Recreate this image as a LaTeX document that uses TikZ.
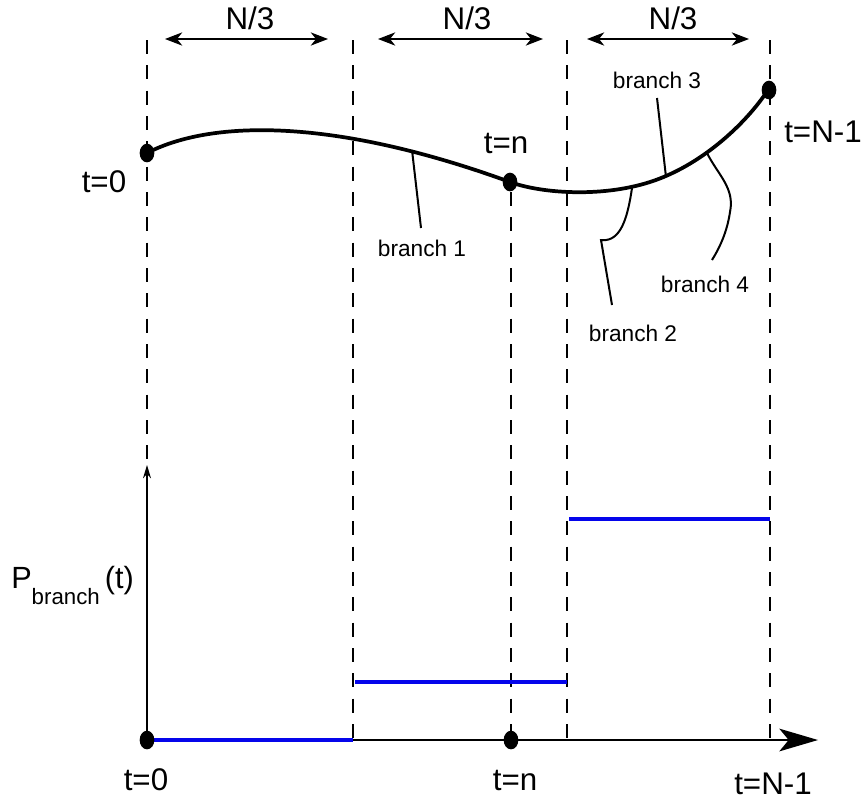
\documentclass[tikz,border=0pt]{standalone}
\usepackage{fontspec}
\setmainfont{Liberation Sans}
\usetikzlibrary{arrows.meta,shapes.geometric}
\begin{document}
\begin{tikzpicture}[x=0.75pt,y=-0.75pt,
  guide/.style={line width=0.8pt,dash pattern=on 10.5pt off 8.5pt},
  biglabel/.style={font=\fontsize{23.5}{28}\selectfont,inner sep=0},
  smalllabel/.style={font=\fontsize{17}{20}\selectfont,inner sep=0},
  dotmark/.style={ellipse,fill,inner sep=0,minimum width=11pt,minimum height=14pt},
  span/.style={line width=0.9pt,{Stealth[length=13pt,width=10pt,inset=4pt]}-{Stealth[length=13pt,width=10pt,inset=4pt]}},
  leader/.style={line width=1.5pt},
  level/.style={line width=3.6pt,color={rgb,255:red,5;green,5;blue,235}}]
\useasboundingbox (0,0) rectangle (866,801);

% guide coordinates
\coordinate (g0t) at (147,40);  \coordinate (g0b) at (147,465);
\coordinate (g1t) at (353,40);  \coordinate (g1b) at (353,740);
\coordinate (gnt) at (511,192); \coordinate (gnb) at (511,740);
\coordinate (g2t) at (567,40);  \coordinate (g2b) at (567,740);
\coordinate (g3t) at (770,40);  \coordinate (g3b) at (770,740);
\draw[guide] (g0t) -- (g0b);
\draw[guide] (g1t) -- (g1b);
\draw[guide] (gnt) -- (gnb);
\draw[guide] (g2t) -- (g2b);
\draw[guide] (g3t) -- (g3b);

% N/3 spans
\coordinate (s1a) at (165,39); \coordinate (s1b) at (328,39);
\coordinate (s2a) at (378,39); \coordinate (s2b) at (543,39);
\coordinate (s3a) at (587,39); \coordinate (s3b) at (749,39);
\draw[span] (s1a) -- (s1b);
\draw[span] (s2a) -- (s2b);
\draw[span] (s3a) -- (s3b);
\node[biglabel] (n1) at (250,18) {N/3};
\node[biglabel] (n2) at (467,18) {N/3};
\node[biglabel] (n3) at (673,18) {N/3};

% trajectory
\draw[line width=2.8pt]
  (147,153) .. controls (215,118) and (340,120) .. (510,182)
            .. controls (540,193) and (600,198) .. (650,182)
            .. controls (700,166) and (745,125) .. (768,90);
\node[dotmark] (d0) at (147,153) {};
\node[dotmark] (dn) at (510,182) {};
\node[dotmark] (dN) at (769,90) {};
\node[biglabel] (l0) at (104,182) {t=0};
\node[biglabel] (ln) at (506,143) {t=n};
\node[biglabel] (lN) at (823,132) {t=N-1};

% branch leaders
\coordinate (b1c) at (412,150);
\coordinate (b2c) at (632,188);
\coordinate (b3c) at (666,177);
\coordinate (b4c) at (707,153);
\node[smalllabel] (b1) at (422,248) {branch 1};
\node[smalllabel] (b2) at (633,333) {branch 2};
\node[smalllabel] (b3) at (657,80) {branch 3};
\node[smalllabel] (b4) at (705,284) {branch 4};
\draw[leader] (b1c) -- (421,228);
\draw[leader] (b3c) -- (657,98);
\draw[leader] (b2c) .. controls (628,215) and (622,238) .. (606,240) -- (601,240) -- (612,305);
\draw[leader] (b4c) .. controls (718,175) and (735,188) .. (730,212) .. controls (727,232) and (720,247) .. (712,260);

% axes
\coordinate (o) at (147,740);
\coordinate (ytop) at (147,465);
\coordinate (xend) at (818,740);
\draw[line width=0.8pt,-{Stealth[length=10pt,width=6pt]}] (o) -- (ytop);
\draw[line width=1.4pt,-{Stealth[length=29pt,width=17pt,inset=7pt]}] (o) -- (xend);
\node[anchor=base west,inner sep=0,font=\fontsize{23}{27}\selectfont] (py) at (11,588)
  {P\raisebox{-12pt}{\fontsize{16.7}{19}\selectfont branch}\,(t)};

% step levels
\coordinate (p0a) at (147,740); \coordinate (p0b) at (353,740);
\coordinate (p1a) at (355,682); \coordinate (p1b) at (567,682);
\coordinate (p2a) at (569,519); \coordinate (p2b) at (770,519);
\draw[level] (p0a) -- (p0b);
\draw[level] (p1a) -- (p1b);
\draw[level] (p2a) -- (p2b);

\node[dotmark] (a0) at (147,740) {};
\node[dotmark] (an) at (511,740) {};
\node[biglabel] (x0) at (146,780) {t=0};
\node[biglabel] (xn) at (515,780) {t=n};
\node[biglabel] (xN) at (773,784) {t=N-1};
\end{tikzpicture}
\end{document}
